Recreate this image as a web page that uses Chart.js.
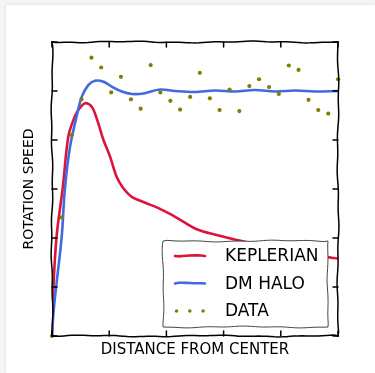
<!DOCTYPE html>
<html>
<head>
<meta charset="utf-8">
<script src="https://cdn.jsdelivr.net/npm/chart.js@4.4.1/dist/chart.umd.min.js"></script>
<style>
    html, body { margin: 0; padding: 0; background: #f5f5f5; }
    #wrap { position: relative; width: 375px; height: 373px; overflow: hidden; }
    #card { position: absolute; left: 6px; top: 5px; right: 0; bottom: 0; background: #fff; box-shadow: 0 0 3px rgba(0,0,0,0.12); }
    #box { position: absolute; left: 0; top: 0; width: 375px; height: 373px; }
</style>
</head>
<body>
<div id="wrap">
    <div id="card"></div>
    <div id="box"><canvas id="rotChart"></canvas></div>
</div>
<script>
// 観測データ（30点）
const dataX = [0, 0.34, 0.69, 1.03, 1.38, 1.72, 2.07, 2.41, 2.76, 3.10, 3.45, 3.79, 4.14, 4.48, 4.83,
               5.17, 5.52, 5.86, 6.21, 6.55, 6.90, 7.24, 7.59, 7.93, 8.28, 8.62, 8.97, 9.31, 9.66, 10];
const dataY = [0, 2.42, 4.10, 4.83, 5.68, 5.48, 4.97, 5.29, 4.83, 4.64, 5.53, 4.97, 4.80, 4.62, 4.88,
               5.37, 4.85, 4.61, 5.03, 4.59, 5.10, 5.24, 5.08, 4.94, 5.52, 5.43, 4.82, 4.61, 4.54, 5.24];

// ケプラー回転曲線
const keplerX = [0, 0.05, 0.16, 0.38, 0.57, 0.75, 0.92, 1.16, 1.39, 1.58, 1.80, 2.03, 2.26, 2.5,
                 2.79, 3.26, 3.72, 4.19, 4.6, 5.06, 5.76, 6.46, 7.2, 8.0, 8.8, 9.5, 10];
const keplerY = [0, 1.0, 2.03, 3.05, 4.07, 4.41, 4.61, 4.75, 4.68, 4.41, 4.0, 3.66, 3.25, 3.01,
                 2.84, 2.72, 2.61, 2.47, 2.33, 2.18, 2.06, 1.96, 1.87, 1.78, 1.69, 1.62, 1.58];

// ダークマターハロー
const haloX = [0, 0.05, 0.16, 0.34, 0.45, 0.63, 0.86, 1.04, 1.27, 1.50, 1.80, 2.09, 2.44, 2.8,
               3.2, 3.78, 4.3, 5.0, 5.7, 6.4, 7.1, 7.8, 8.5, 9.2, 10];
const haloY = [0, 0.47, 1.08, 2.03, 3.0, 3.86, 4.48, 4.88, 5.12, 5.21, 5.19, 5.09, 4.99, 4.94,
               4.95, 5.03, 5.0, 4.98, 5.01, 4.99, 5.02, 4.99, 5.01, 4.99, 5.0];

const seriesLabels = ['KEPLERIAN', 'DM HALO', 'DATA'];
const xTitle = 'DISTANCE FROM CENTER';
const yTitle = 'ROTATION SPEED';

const FONT = "'DejaVu Sans', sans-serif";

const toPoints = (xs, ys) => xs.map((x, i) => ({ x: x, y: ys[i] }));

// 手書き風のゆらぎ線
function wobblyLine(ctx, x1, y1, x2, y2, seed) {
    const len = Math.hypot(x2 - x1, y2 - y1);
    const n = Math.max(2, Math.round(len / 4));
    const nx = -(y2 - y1) / len, ny = (x2 - x1) / len;
    ctx.beginPath();
    for (let i = 0; i <= n; i++) {
        const t = i / n;
        const d = len * t;
        const off = (i === 0 || i === n) ? 0 :
            0.6 * Math.sin(d * 0.05 + seed) + 0.35 * Math.sin(d * 0.17 + seed * 2.3);
        const px = x1 + (x2 - x1) * t + nx * off;
        const py = y1 + (y2 - y1) * t + ny * off;
        if (i === 0) ctx.moveTo(px, py); else ctx.lineTo(px, py);
    }
    ctx.stroke();
}

// 枠と内向きの目盛り
const framePlugin = {
    id: 'xkcdFrame',
    afterDatasetsDraw(chart) {
        const { ctx, chartArea: a, scales: { x, y } } = chart;
        ctx.save();
        ctx.strokeStyle = '#000';
        ctx.lineWidth = 1.5;
        ctx.lineCap = 'round';
        wobblyLine(ctx, a.left, a.top, a.right, a.top, 1);
        wobblyLine(ctx, a.right, a.top, a.right, a.bottom, 2);
        wobblyLine(ctx, a.left, a.bottom, a.right, a.bottom, 3);
        wobblyLine(ctx, a.left, a.top, a.left, a.bottom, 4);
        const tl = 5;
        x.ticks.forEach(t => {
            const px = x.getPixelForValue(t.value);
            ctx.beginPath(); ctx.moveTo(px, a.bottom); ctx.lineTo(px, a.bottom - tl); ctx.stroke();
            ctx.beginPath(); ctx.moveTo(px, a.top); ctx.lineTo(px, a.top + tl); ctx.stroke();
        });
        y.ticks.forEach(t => {
            const py = y.getPixelForValue(t.value);
            ctx.beginPath(); ctx.moveTo(a.left, py); ctx.lineTo(a.left + tl, py); ctx.stroke();
            ctx.beginPath(); ctx.moveTo(a.right, py); ctx.lineTo(a.right - tl, py); ctx.stroke();
        });
        ctx.restore();
    }
};

// 右下の凡例（枠内）
const legendPlugin = {
    id: 'xkcdLegend',
    afterDraw(chart) {
        const { ctx, chartArea: a } = chart;
        const w = 165, h = 86;
        const bx = a.right - 10 - w, by = a.bottom - 9 - h;
        ctx.save();
        ctx.fillStyle = '#fff';
        ctx.fillRect(bx, by, w, h);
        ctx.strokeStyle = '#444';
        ctx.lineWidth = 1;
        wobblyLine(ctx, bx, by, bx + w, by, 5);
        wobblyLine(ctx, bx + w, by, bx + w, by + h, 6);
        wobblyLine(ctx, bx, by + h, bx + w, by + h, 7);
        wobblyLine(ctx, bx, by, bx, by + h, 8);
        ctx.font = '17px ' + FONT;
        ctx.textBaseline = 'middle';
        chart.data.datasets.forEach((ds, i) => {
            const cy = by + 15 + i * 27.5;
            if (ds.showLine === false) {
                ctx.fillStyle = ds.backgroundColor;
                [0, 13.3, 26.6].forEach(dx => {
                    ctx.beginPath(); ctx.arc(bx + 13.5 + dx, cy, 1.8, 0, Math.PI * 2); ctx.fill();
                });
            } else {
                ctx.strokeStyle = ds.borderColor;
                ctx.lineWidth = ds.borderWidth;
                ctx.lineCap = 'round';
                wobblyLine(ctx, bx + 12, cy, bx + 42, cy, 9 + i);
            }
            ctx.fillStyle = '#000';
            ctx.fillText(ds.label, bx + 62, cy + 1);
        });
        ctx.restore();
    }
};

new Chart(document.getElementById('rotChart').getContext('2d'), {
    type: 'line',
    data: {
        datasets: [{
            label: seriesLabels[0],
            data: toPoints(keplerX, keplerY),
            borderColor: '#DC143C',
            borderWidth: 2.6,
            pointRadius: 0,
            tension: 0.35,
            order: 3,
        }, {
            label: seriesLabels[1],
            data: toPoints(haloX, haloY),
            borderColor: '#4169E1',
            borderWidth: 2.6,
            pointRadius: 0,
            tension: 0.35,
            order: 2,
        }, {
            label: seriesLabels[2],
            data: toPoints(dataX, dataY),
            showLine: false,
            backgroundColor: '#808000',
            borderColor: '#808000',
            pointRadius: 2.1,
            pointBorderWidth: 0,
            order: 1,
            clip: false,
        }]
    },
    options: {
        responsive: true,
        maintainAspectRatio: false,
        animation: false,
        layout: { padding: { top: 42, right: 37, left: 0, bottom: 0 } },
        plugins: {
            legend: { display: false },
            tooltip: { enabled: false },
        },
        scales: {
            x: {
                type: 'linear',
                min: 0,
                max: 10,
                ticks: { display: false, stepSize: 2 },
                grid: { display: false },
                border: { display: false },
                title: {
                    display: true,
                    text: xTitle,
                    color: '#000',
                    font: { family: FONT, size: 15 },
                    padding: { top: 0, bottom: 14 },
                },
                afterFit(scale) { scale.height = 37; }
            },
            y: {
                min: 0,
                max: 6,
                ticks: { display: false, stepSize: 1 },
                grid: { display: false },
                border: { display: false },
                title: {
                    display: true,
                    text: yTitle,
                    color: '#000',
                    font: { family: FONT, size: 14 },
                    padding: { top: 21, bottom: 0 },
                },
                afterFit(scale) { scale.width = 52; }
            }
        }
    },
    plugins: [framePlugin, legendPlugin]
});
</script>
</body>
</html>
